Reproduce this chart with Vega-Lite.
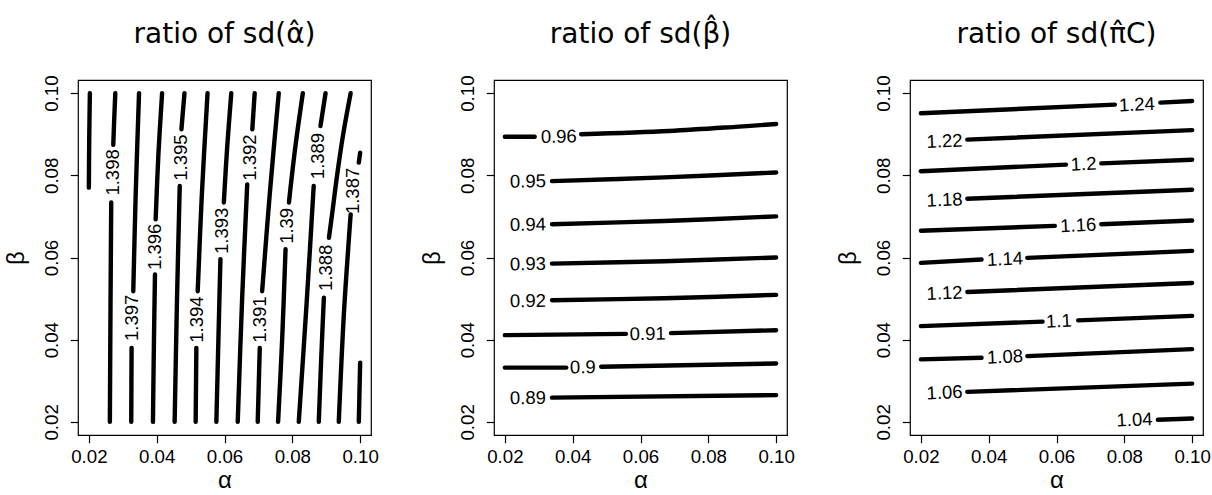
{
  "$schema": "https://vega.github.io/schema/vega-lite/v6.json",
  "background": "white",
  "padding": {"left": 3, "top": 20, "right": 0, "bottom": 0},
  "spacing": 123,
  "bounds": "flush",
  "datasets": {
    "p1l": [
      {"seg": "a1", "i": 1, "a": 0.0203, "b": 0.100}, {"seg": "a1", "i": 2, "a": 0.0201, "b": 0.088}, {"seg": "a1", "i": 3, "a": 0.0200, "b": 0.077},
      {"seg": "b1", "i": 1, "a": 0.0278, "b": 0.100}, {"seg": "b1", "i": 2, "a": 0.0275, "b": 0.094}, {"seg": "b1", "i": 3, "a": 0.0272, "b": 0.0874},
      {"seg": "b2", "i": 1, "a": 0.0266, "b": 0.0734}, {"seg": "b2", "i": 2, "a": 0.0264, "b": 0.050}, {"seg": "b2", "i": 3, "a": 0.0262, "b": 0.020},
      {"seg": "c1", "i": 1, "a": 0.0348, "b": 0.100}, {"seg": "c1", "i": 2, "a": 0.0338, "b": 0.075}, {"seg": "c1", "i": 3, "a": 0.0331, "b": 0.0518},
      {"seg": "c2", "i": 1, "a": 0.0326, "b": 0.0380}, {"seg": "c2", "i": 2, "a": 0.0325, "b": 0.020},
      {"seg": "d1", "i": 1, "a": 0.0416, "b": 0.100}, {"seg": "d1", "i": 2, "a": 0.0405, "b": 0.085}, {"seg": "d1", "i": 3, "a": 0.0397, "b": 0.0693},
      {"seg": "d2", "i": 1, "a": 0.0395, "b": 0.0559}, {"seg": "d2", "i": 2, "a": 0.0392, "b": 0.040}, {"seg": "d2", "i": 3, "a": 0.0389, "b": 0.020},
      {"seg": "e1", "i": 1, "a": 0.0482, "b": 0.100}, {"seg": "e1", "i": 2, "a": 0.0473, "b": 0.0912},
      {"seg": "e2", "i": 1, "a": 0.0468, "b": 0.0774}, {"seg": "e2", "i": 2, "a": 0.0460, "b": 0.050}, {"seg": "e2", "i": 3, "a": 0.0453, "b": 0.020},
      {"seg": "f1", "i": 1, "a": 0.0550, "b": 0.100}, {"seg": "f1", "i": 2, "a": 0.0533, "b": 0.075}, {"seg": "f1", "i": 3, "a": 0.0521, "b": 0.0518},
      {"seg": "f2", "i": 1, "a": 0.0517, "b": 0.0380}, {"seg": "f2", "i": 2, "a": 0.0515, "b": 0.020},
      {"seg": "g1", "i": 1, "a": 0.0620, "b": 0.100}, {"seg": "g1", "i": 2, "a": 0.0608, "b": 0.087}, {"seg": "g1", "i": 3, "a": 0.0598, "b": 0.0734},
      {"seg": "g2", "i": 1, "a": 0.0588, "b": 0.0596}, {"seg": "g2", "i": 2, "a": 0.0582, "b": 0.040}, {"seg": "g2", "i": 3, "a": 0.0576, "b": 0.020},
      {"seg": "h1", "i": 1, "a": 0.0689, "b": 0.100}, {"seg": "h1", "i": 2, "a": 0.0682, "b": 0.0912},
      {"seg": "h2", "i": 1, "a": 0.0667, "b": 0.0778}, {"seg": "h2", "i": 2, "a": 0.0652, "b": 0.050}, {"seg": "h2", "i": 3, "a": 0.0639, "b": 0.020},
      {"seg": "j1", "i": 1, "a": 0.0760, "b": 0.100}, {"seg": "j1", "i": 2, "a": 0.0733, "b": 0.075}, {"seg": "j1", "i": 3, "a": 0.0711, "b": 0.0518},
      {"seg": "j2", "i": 1, "a": 0.0704, "b": 0.0380}, {"seg": "j2", "i": 2, "a": 0.0698, "b": 0.020},
      {"seg": "k1", "i": 1, "a": 0.0831, "b": 0.100}, {"seg": "k1", "i": 2, "a": 0.0809, "b": 0.087}, {"seg": "k1", "i": 3, "a": 0.0790, "b": 0.0734},
      {"seg": "k2", "i": 1, "a": 0.0780, "b": 0.0620}, {"seg": "k2", "i": 2, "a": 0.0770, "b": 0.040}, {"seg": "k2", "i": 3, "a": 0.0758, "b": 0.020},
      {"seg": "m1", "i": 1, "a": 0.0898, "b": 0.100}, {"seg": "m1", "i": 2, "a": 0.0883, "b": 0.0920},
      {"seg": "m2", "i": 1, "a": 0.0863, "b": 0.0774}, {"seg": "m2", "i": 2, "a": 0.0843, "b": 0.050}, {"seg": "m2", "i": 3, "a": 0.0819, "b": 0.020},
      {"seg": "n1", "i": 1, "a": 0.0972, "b": 0.100}, {"seg": "n1", "i": 2, "a": 0.0950, "b": 0.090}, {"seg": "n1", "i": 3, "a": 0.0932, "b": 0.080}, {"seg": "n1", "i": 4, "a": 0.0918, "b": 0.071}, {"seg": "n1", "i": 5, "a": 0.0908, "b": 0.0648},
      {"seg": "n2", "i": 1, "a": 0.0893, "b": 0.0502}, {"seg": "n2", "i": 2, "a": 0.0885, "b": 0.035}, {"seg": "n2", "i": 3, "a": 0.0878, "b": 0.020},
      {"seg": "q1", "i": 1, "a": 0.1000, "b": 0.0855}, {"seg": "q1", "i": 2, "a": 0.0996, "b": 0.0831},
      {"seg": "q2", "i": 1, "a": 0.0972, "b": 0.0705}, {"seg": "q2", "i": 2, "a": 0.0952, "b": 0.0462}, {"seg": "q2", "i": 3, "a": 0.0937, "b": 0.020},
      {"seg": "r1", "i": 1, "a": 0.1000, "b": 0.0344}, {"seg": "r1", "i": 2, "a": 0.0996, "b": 0.020}
    ],
    "p1t": [
      {"a": 0.0270, "b": 0.0807, "t": "1.398"},
      {"a": 0.0328, "b": 0.0453, "t": "1.397"},
      {"a": 0.0395, "b": 0.0626, "t": "1.396"},
      {"a": 0.0472, "b": 0.0843, "t": "1.395"},
      {"a": 0.0520, "b": 0.0449, "t": "1.394"},
      {"a": 0.0593, "b": 0.0665, "t": "1.393"},
      {"a": 0.0674, "b": 0.0843, "t": "1.392"},
      {"a": 0.0706, "b": 0.0449, "t": "1.391"},
      {"a": 0.0783, "b": 0.0677, "t": "1.39"},
      {"a": 0.0875, "b": 0.0847, "t": "1.389"},
      {"a": 0.0900, "b": 0.0575, "t": "1.388"},
      {"a": 0.0978, "b": 0.0762, "t": "1.387"}
    ],
    "p2l": [
      {"seg": "a1", "i": 1, "a": 0.0200, "b": 0.0894}, {"seg": "a1", "i": 2, "a": 0.0288, "b": 0.0894},
      {"seg": "a2", "i": 1, "a": 0.0425, "b": 0.0900}, {"seg": "a2", "i": 2, "a": 0.0685, "b": 0.0908}, {"seg": "a2", "i": 3, "a": 0.0880, "b": 0.0918}, {"seg": "a2", "i": 4, "a": 0.1000, "b": 0.0925},
      {"seg": "b1", "i": 1, "a": 0.0339, "b": 0.0786}, {"seg": "b1", "i": 2, "a": 0.0670, "b": 0.0795}, {"seg": "b1", "i": 3, "a": 0.1000, "b": 0.0807},
      {"seg": "c1", "i": 1, "a": 0.0339, "b": 0.0681}, {"seg": "c1", "i": 2, "a": 0.0670, "b": 0.0689}, {"seg": "c1", "i": 3, "a": 0.1000, "b": 0.0700},
      {"seg": "d1", "i": 1, "a": 0.0339, "b": 0.0585}, {"seg": "d1", "i": 2, "a": 0.0670, "b": 0.0591}, {"seg": "d1", "i": 3, "a": 0.1000, "b": 0.0600},
      {"seg": "e1", "i": 1, "a": 0.0339, "b": 0.0496}, {"seg": "e1", "i": 2, "a": 0.0670, "b": 0.0501}, {"seg": "e1", "i": 3, "a": 0.1000, "b": 0.0509},
      {"seg": "f1", "i": 1, "a": 0.0200, "b": 0.0411}, {"seg": "f1", "i": 2, "a": 0.0557, "b": 0.0414},
      {"seg": "f2", "i": 1, "a": 0.0690, "b": 0.0416}, {"seg": "f2", "i": 2, "a": 0.1000, "b": 0.0423},
      {"seg": "g1", "i": 1, "a": 0.0200, "b": 0.0332}, {"seg": "g1", "i": 2, "a": 0.0381, "b": 0.0332},
      {"seg": "g2", "i": 1, "a": 0.0484, "b": 0.0334}, {"seg": "g2", "i": 2, "a": 0.1000, "b": 0.0342},
      {"seg": "h1", "i": 1, "a": 0.0339, "b": 0.0259}, {"seg": "h1", "i": 2, "a": 0.1000, "b": 0.0265}
    ],
    "p2t": [
      {"a": 0.0359, "b": 0.0894, "t": "0.96"},
      {"a": 0.0268, "b": 0.0785, "t": "0.95"},
      {"a": 0.0268, "b": 0.0680, "t": "0.94"},
      {"a": 0.0268, "b": 0.0584, "t": "0.93"},
      {"a": 0.0268, "b": 0.0494, "t": "0.92"},
      {"a": 0.0621, "b": 0.0414, "t": "0.91"},
      {"a": 0.0430, "b": 0.0333, "t": "0.9"},
      {"a": 0.0268, "b": 0.0258, "t": "0.89"}
    ],
    "p3l": [
      {"seg": "a1", "i": 1, "a": 0.0200, "b": 0.0951}, {"seg": "a1", "i": 2, "a": 0.0772, "b": 0.0972},
      {"seg": "a2", "i": 1, "a": 0.0906, "b": 0.0977}, {"seg": "a2", "i": 2, "a": 0.1000, "b": 0.0981},
      {"seg": "b1", "i": 1, "a": 0.0337, "b": 0.0887}, {"seg": "b1", "i": 2, "a": 0.1000, "b": 0.0910},
      {"seg": "c1", "i": 1, "a": 0.0200, "b": 0.0810}, {"seg": "c1", "i": 2, "a": 0.0628, "b": 0.0826},
      {"seg": "c2", "i": 1, "a": 0.0732, "b": 0.0829}, {"seg": "c2", "i": 2, "a": 0.1000, "b": 0.0838},
      {"seg": "d1", "i": 1, "a": 0.0337, "b": 0.0743}, {"seg": "d1", "i": 2, "a": 0.1000, "b": 0.0765},
      {"seg": "e1", "i": 1, "a": 0.0200, "b": 0.0665}, {"seg": "e1", "i": 2, "a": 0.0595, "b": 0.0677},
      {"seg": "e2", "i": 1, "a": 0.0732, "b": 0.0681}, {"seg": "e2", "i": 2, "a": 0.1000, "b": 0.0690},
      {"seg": "f1", "i": 1, "a": 0.0200, "b": 0.0587}, {"seg": "f1", "i": 2, "a": 0.0379, "b": 0.0595},
      {"seg": "f2", "i": 1, "a": 0.0514, "b": 0.0599}, {"seg": "f2", "i": 2, "a": 0.1000, "b": 0.0616},
      {"seg": "g1", "i": 1, "a": 0.0337, "b": 0.0516}, {"seg": "g1", "i": 2, "a": 0.1000, "b": 0.0538},
      {"seg": "h1", "i": 1, "a": 0.0200, "b": 0.0433}, {"seg": "h1", "i": 2, "a": 0.0559, "b": 0.0444},
      {"seg": "h2", "i": 1, "a": 0.0664, "b": 0.0447}, {"seg": "h2", "i": 2, "a": 0.1000, "b": 0.0458},
      {"seg": "j1", "i": 1, "a": 0.0200, "b": 0.0352}, {"seg": "j1", "i": 2, "a": 0.0379, "b": 0.0356},
      {"seg": "j2", "i": 1, "a": 0.0514, "b": 0.0360}, {"seg": "j2", "i": 2, "a": 0.1000, "b": 0.0377},
      {"seg": "k1", "i": 1, "a": 0.0337, "b": 0.0273}, {"seg": "k1", "i": 2, "a": 0.1000, "b": 0.0293},
      {"seg": "m1", "i": 1, "a": 0.0899, "b": 0.0205}, {"seg": "m1", "i": 2, "a": 0.1000, "b": 0.0208}
    ],
    "p3t": [
      {"a": 0.0837, "b": 0.0972, "t": "1.24"},
      {"a": 0.0270, "b": 0.0883, "t": "1.22"},
      {"a": 0.0680, "b": 0.0827, "t": "1.2"},
      {"a": 0.0270, "b": 0.0740, "t": "1.18"},
      {"a": 0.0664, "b": 0.0678, "t": "1.16"},
      {"a": 0.0448, "b": 0.0596, "t": "1.14"},
      {"a": 0.0270, "b": 0.0513, "t": "1.12"},
      {"a": 0.0607, "b": 0.0445, "t": "1.1"},
      {"a": 0.0448, "b": 0.0358, "t": "1.08"},
      {"a": 0.0270, "b": 0.0271, "t": "1.06"},
      {"a": 0.0830, "b": 0.0205, "t": "1.04"}
    ]
  },
  "hconcat": [
    {
      "width": 293, "height": 355,
      "title": "ratio of sd(α̂)",
      "encoding": {
        "x": {"field": "a", "type": "quantitative", "title": "α", "scale": {"domain": [0.0168, 0.1032], "nice": false, "zero": false}, "axis": {"values": [0.02, 0.04, 0.06, 0.08, 0.1]}},
        "y": {"field": "b", "type": "quantitative", "title": "β", "scale": {"domain": [0.0168, 0.1032], "nice": false, "zero": false}, "axis": {"values": [0.02, 0.04, 0.06, 0.08, 0.1]}}
      },
      "layer": [
        {"data": {"name": "p1l"}, "mark": {"type": "line", "interpolate": "catmull-rom"}, "encoding": {"detail": {"field": "seg"}, "order": {"field": "i"}}},
        {"data": {"name": "p1t"}, "mark": {"type": "text", "angle": 270}, "encoding": {"text": {"field": "t"}}}
      ]
    },
    {
      "width": 293, "height": 355,
      "title": "ratio of sd(β̂)",
      "encoding": {
        "x": {"field": "a", "type": "quantitative", "title": "α", "scale": {"domain": [0.0168, 0.1032], "nice": false, "zero": false}, "axis": {"values": [0.02, 0.04, 0.06, 0.08, 0.1]}},
        "y": {"field": "b", "type": "quantitative", "title": "β", "scale": {"domain": [0.0168, 0.1032], "nice": false, "zero": false}, "axis": {"values": [0.02, 0.04, 0.06, 0.08, 0.1]}}
      },
      "layer": [
        {"data": {"name": "p2l"}, "mark": {"type": "line", "interpolate": "catmull-rom"}, "encoding": {"detail": {"field": "seg"}, "order": {"field": "i"}}},
        {"data": {"name": "p2t"}, "mark": {"type": "text", "angle": 359}, "encoding": {"text": {"field": "t"}}}
      ]
    },
    {
      "width": 293, "height": 355,
      "title": "ratio of sd(π̂C)",
      "encoding": {
        "x": {"field": "a", "type": "quantitative", "title": "α", "scale": {"domain": [0.0168, 0.1032], "nice": false, "zero": false}, "axis": {"values": [0.02, 0.04, 0.06, 0.08, 0.1]}},
        "y": {"field": "b", "type": "quantitative", "title": "β", "scale": {"domain": [0.0168, 0.1032], "nice": false, "zero": false}, "axis": {"values": [0.02, 0.04, 0.06, 0.08, 0.1]}}
      },
      "layer": [
        {"data": {"name": "p3l"}, "mark": {"type": "line"}, "encoding": {"detail": {"field": "seg"}, "order": {"field": "i"}}},
        {"data": {"name": "p3t"}, "mark": {"type": "text", "angle": 357.5}, "encoding": {"text": {"field": "t"}}}
      ]
    }
  ],
  "config": {
    "font": "Liberation Sans",
    "view": {"stroke": "black", "strokeWidth": 1.2},
    "line": {"color": "black", "strokeWidth": 4.4, "strokeCap": "round", "strokeJoin": "round"},
    "text": {"color": "black", "fontSize": 18.5, "font": "Liberation Sans", "align": "center", "baseline": "middle"},
    "title": {"font": "DejaVu Sans", "fontSize": 28, "fontWeight": "normal", "color": "black", "anchor": "middle", "frame": "group", "offset": 26},
    "axis": {
      "format": ".2f", "domain": false, "grid": false,
      "tickColor": "black", "tickSize": 7.7, "tickWidth": 1.2,
      "labelFont": "Liberation Sans", "labelFontSize": 18.7, "labelColor": "black", "labelFlush": false, "labelOverlap": false,
      "titleFont": "Liberation Sans", "titleFontSize": 24, "titleFontWeight": "normal", "titleColor": "black"
    },
    "axisX": {"labelPadding": 5, "titleY": 45, "titleBaseline": "middle"},
    "axisY": {"labelAngle": 270, "labelAlign": "center", "labelBaseline": "bottom", "labelPadding": 9, "titleX": -62, "titleY": 177.5, "titleBaseline": "middle"}
  }
}
